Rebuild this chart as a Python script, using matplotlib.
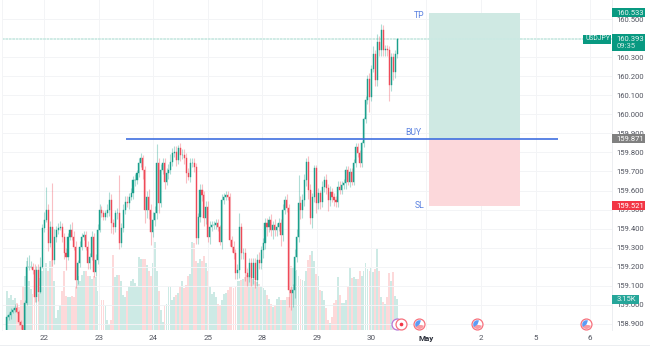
import matplotlib
matplotlib.use("Agg")
import matplotlib.pyplot as plt
from matplotlib.patches import Rectangle
from matplotlib.path import Path

plt.rcParams['font.family'] = ['Roboto', 'DejaVu Sans']

first_open = 158.87

closes = [
    158.938, 158.947, 158.965, 158.973, 158.982, 158.965, 158.912, 158.895, 158.869, 159.008,
    159.201, 159.201, 159.201, 159.183, 159.043, 159.183, 159.070, 159.201, 159.402, 159.445,
    159.498, 159.323, 159.410, 159.236, 159.358, 159.393, 159.402, 159.410, 159.358, 159.271,
    159.253, 159.358, 159.393, 159.358, 159.306, 159.131, 159.218, 159.306, 159.358, 159.367,
    159.306, 159.218, 159.253, 159.358, 159.174, 159.236, 159.393, 159.498, 159.480, 159.463,
    159.480, 159.498, 159.550, 159.428, 159.410, 159.480, 159.480, 159.323, 159.402, 159.498,
    159.542, 159.533, 159.568, 159.585, 159.655, 159.655, 159.690, 159.743, 159.769, 159.708,
    159.498, 159.568, 159.498, 159.384, 159.445, 159.480, 159.743, 159.533, 159.708, 159.743,
    159.647, 159.690, 159.708, 159.751, 159.795, 159.804, 159.760, 159.821, 159.786, 159.786,
    159.769, 159.690, 159.673, 159.743, 159.743, 159.725, 159.349, 159.463, 159.603, 159.577,
    159.454, 159.515, 159.358, 159.410, 159.419, 159.419, 159.428, 159.410, 159.332, 159.550,
    159.568, 159.577, 159.568, 159.341, 159.306, 159.271, 159.166, 159.183, 159.410, 159.271,
    159.271, 159.166, 159.148, 159.218, 159.140, 159.218, 159.131, 159.236, 159.218, 159.288,
    159.323, 159.428, 159.410, 159.445, 159.393, 159.419, 159.393, 159.410, 159.428, 159.367,
    159.498, 159.550, 159.507, 159.078, 159.061, 159.078, 159.253, 159.358, 159.533, 159.498,
    159.550, 159.655, 159.751, 159.603, 159.454, 159.568, 159.716, 159.533, 159.585, 159.542,
    159.620, 159.655, 159.612, 159.550, 159.594, 159.568, 159.550, 159.542, 159.620, 159.603,
    159.629, 159.638, 159.708, 159.647, 159.699, 159.647, 159.743, 159.830, 159.795, 159.743,
    159.848, 159.977, 160.074, 160.187, 160.091, 160.240, 160.318, 160.178, 160.379, 160.336,
    160.441, 160.336, 160.344, 160.336, 160.152, 160.301, 160.222, 160.318, 160.393,
]

wick_up = [
    .01, .01, .02, .01, .02, .02, .01, .01, .00, .02,
    .05, .06, .03, .02, .03, .02, .03, .05, .02, .04,
    .12, .03, .03, .23, .04, .02, .03, .03, .02, .02,
    .03, .02, .03, .04, .03, .03, .02, .03, .02, .02,
    .02, .03, .02, .03, .02, .03, .03, .03, .02, .02,
    .02, .03, .04, .03, .02, .02, .03, .20, .03, .03,
    .03, .03, .02, .03, .02, .03, .02, .03, .03, .02,
    .02, .03, .04, .03, .04, .04, .10, .03, .03, .03,
    .03, .03, .03, .04, .03, .03, .03, .02, .03, .03,
    .03, .03, .03, .03, .03, .03, .02, .02, .03, .03,
    .02, .03, .03, .03, .02, .02, .02, .02, .01, .03,
    .02, .02, .02, .02, .02, .03, .02, .03, .07, .02,
    .03, .03, .03, .03, .03, .03, .03, .03, .04, .02,
    .03, .03, .03, .02, .03, .02, .03, .02, .03, .02,
    .03, .02, .03, .02, .02, .03, .04, .04, .15, .04,
    .03, .03, .02, .03, .03, .02, .02, .02, .03, .02,
    .03, .02, .03, .02, .03, .02, .02, .02, .03, .03,
    .02, .02, .02, .02, .02, .02, .02, .02, .02, .02,
    .01, .01, .02, .02, .03, .02, .04, .02, .04, .03,
    .035, .03, .02, .02, .02, .02, .02, .02, .01,
]

wick_down = [
    .00, .02, .02, .01, .01, .01, .02, .02, .00, .01,
    .01, .02, .01, .02, .03, .03, .05, .01, .01, .02,
    .01, .04, .02, .03, .02, .03, .02, .01, .03, .03,
    .07, .02, .02, .02, .02, .04, .02, .02, .02, .02,
    .02, .03, .03, .02, .03, .02, .02, .01, .02, .02,
    .02, .02, .03, .05, .04, .03, .03, .03, .02, .02,
    .02, .02, .03, .02, .03, .03, .02, .02, .02, .05,
    .07, .04, .05, .07, .03, .03, .03, .05, .02, .02,
    .04, .02, .03, .02, .02, .02, .03, .02, .03, .02,
    .03, .05, .02, .03, .02, .03, .03, .03, .03, .03,
    .04, .03, .03, .04, .02, .02, .02, .02, .02, .04,
    .02, .02, .02, .03, .03, .03, .03, .03, .04, .03,
    .03, .04, .05, .03, .04, .03, .04, .03, .03, .03,
    .04, .03, .05, .03, .03, .05, .03, .03, .02, .06,
    .03, .02, .02, .09, .09, .07, .04, .03, .03, .05,
    .04, .03, .03, .05, .03, .05, .03, .05, .03, .04,
    .03, .03, .03, .06, .03, .03, .03, .03, .03, .02,
    .02, .02, .03, .02, .03, .02, .02, .02, .02, .02,
    .02, .02, .02, .02, .08, .02, .02, .03, .03, .03,
    .03, .03, .03, .03, .08, .03, .04, .03, .02,
]

# volume in K
volumes = [
    4.0, 3.2, 3.6, 3.0, 3.2, 2.7, 2.3, 3.0, 4.5, 5.5,
    7.0, 5.0, 4.2, 3.7, 3.4, 3.2, 3.7, 5.3, 6.0, 6.3,
    6.8, 6.0, 7.0, 7.1, 5.0, 1.2, 2.0, 2.4, 4.0, 6.0,
    3.5, 3.4, 3.4, 3.5, 3.3, 4.5, 5.5, 5.0, 5.6, 6.0,
    6.0, 5.5, 5.5, 5.2, 5.5, 5.4, 4.0, 3.5, 3.0, 3.0,
    2.4, 1.0, 0.5, 1.0, 7.6, 5.4, 5.6, 5.6, 5.0, 3.6,
    3.4, 4.0, 4.5, 5.0, 5.2, 4.8, 4.5, 7.4, 7.2, 7.2,
    7.2, 6.6, 6.0, 5.5, 6.8, 8.9, 6.0, 4.0, 2.0, 0.8,
    2.5, 2.6, 4.5, 4.5, 3.0, 3.4, 3.6, 3.8, 4.5, 5.0,
    4.3, 4.6, 5.5, 5.7, 8.9, 8.8, 7.0, 6.8, 7.2, 7.0,
    7.5, 6.8, 6.0, 4.4, 3.7, 3.9, 3.4, 2.6, 2.4, 3.0,
    3.7, 3.8, 4.1, 4.4, 4.4, 4.3, 4.4, 5.0, 5.0, 5.1,
    5.2, 5.4, 5.6, 5.6, 5.3, 5.2, 5.0, 4.9, 4.7, 4.5,
    4.3, 4.1, 3.6, 3.1, 2.6, 2.3, 2.4, 3.1, 3.3, 3.0,
    3.0, 3.0, 3.4, 3.4, 6.5, 6.3, 6.0, 6.1, 5.5, 5.2,
    5.1, 5.0, 6.0, 7.1, 7.6, 8.0, 7.0, 5.7, 5.5, 4.1,
    4.0, 3.0, 2.2, 1.0, 0.7, 1.3, 2.7, 3.0, 5.4, 3.6,
    2.7, 2.7, 3.0, 4.5, 6.3, 5.3, 5.4, 5.2, 5.2, 6.0,
    5.5, 6.0, 6.8, 6.2, 6.0, 6.3, 5.9, 6.2, 8.3, 6.0,
    3.4, 2.8, 2.6, 3.3, 5.8, 5.0, 5.9, 3.5, 3.15,
]

price_ticks = [158.9, 159.0, 159.1, 159.2, 159.3, 159.4, 159.5, 159.6,
               159.7, 159.8, 159.9, 160.0, 160.1, 160.2, 160.3, 160.5]

day_labels = ['22', '23', '24', '25', '28', '29', '30', 'May', '2', '5', '6']
day_pos = [18.8, 46.7, 74.1, 102, 129.7, 157.4, 185, 212.7, 240.6, 268.5, 295.9]

tp_price = 160.533
entry_price = 159.871
sl_price = 159.521
last_price = 160.393

UP = '#1a9f8c'
DOWN = '#ef4a58'

fig = plt.figure(figsize=(6.5, 3.52), dpi=100)
ax = fig.add_axes([2 / 650, 22 / 352, 610 / 650, 330 / 352])
vol = ax.twinx()
ax.set_zorder(2)
vol.set_zorder(1)
ax.patch.set_visible(False)

x = list(range(len(closes)))
opens = [first_open] + closes[:-1]
colors = [UP if c >= o else DOWN for o, c in zip(opens, closes)]
vol_colors = ['#cdeae5' if c >= o else '#fdd9da' for o, c in zip(opens, closes)]
tops = [max(o, c) + w for o, c, w in zip(opens, closes, wick_up)]
bottoms = [min(o, c) - w for o, c, w in zip(opens, closes, wick_down)]

# volume pane sits behind the candles
vol.bar(x, volumes, width=0.95, color=vol_colors, linewidth=0)
vol.set_ylim(0, 33.5)
vol.axis('off')

# long position tool
ax.fill_between([214.3, 260.4], entry_price, tp_price, color='#cfe9e3', linewidth=0, zorder=1)
ax.fill_between([214.3, 260.4], sl_price, entry_price, color='#fcd8db', linewidth=0, zorder=1)
ax.axhline(last_price, color='#cbe9e3', lw=1.3, ls=(0, (1.5, 0.4)), zorder=1.5)
ax.hlines(entry_price, 60.4, 279.7, color='#3f6fe0', lw=1.2, zorder=4)

ax.vlines(x, bottoms, tops, colors=colors, lw=0.8, alpha=0.35, zorder=2)
ax.bar(x, [c - o for o, c in zip(opens, closes)], bottom=opens, width=0.55,
       color=colors, edgecolor=colors, linewidth=0.3, zorder=3)

ax.text(211.7, 160.52, 'TP', color='#5b82e0', fontsize=6.2, ha='right', va='center')
ax.text(210.2, 159.905, 'BUY', color='#5b82e0', fontsize=6.2, ha='right', va='center')
ax.text(211.7, sl_price, 'SL', color='#5b82e0', fontsize=6.2, ha='right', va='center')

ax.set_xlim(-2.5, 307.1)
ax.set_ylim(158.868, 160.6)
ax.yaxis.tick_right()
ax.set_yticks(price_ticks)
ax.set_yticklabels(['%.3f' % p for p in price_ticks], color='#50535e', fontsize=5.5)
ax.set_xticks(day_pos)
ax.set_xticklabels(day_labels, color='#50535e', fontsize=5.8)
ax.get_xticklabels()[7].set_fontweight('bold')
ax.get_xticklabels()[7].set_color('#2a2e39')
ax.tick_params(length=0)
ax.tick_params(axis='y', pad=3.4)
ax.tick_params(axis='x', pad=3.6)
ax.grid(True, color='#f3f4f6', lw=0.7)
ax.set_axisbelow(True)
for s in ax.spines.values():
    s.set_visible(False)
ax.spines['right'].set_visible(True)
ax.spines['right'].set_color('#eceef1')
ax.spines['right'].set_linewidth(0.7)
ax.spines['left'].set_visible(True)
ax.spines['left'].set_color('#f3f4f6')
ax.spines['left'].set_linewidth(0.7)

# event icons along the bottom of the pane
flag_x = [209, 238.6, 293.9]
flag_y = [158.9] * 3
blue_part = Path.wedge(70, 215)
red_part = Path.wedge(195, 345)
ax.scatter(flag_x, flag_y, s=62, facecolor='white', edgecolor='#f7707c', linewidth=0.9, zorder=6)
ax.scatter(flag_x, flag_y, s=42, marker=red_part, color='#f89aa2', linewidth=0, zorder=6.1)
ax.scatter(flag_x, flag_y, s=18, marker='_', color='white', linewidth=0.7, zorder=6.2)
ax.scatter(flag_x, flag_y, s=40, marker=blue_part, color='#5b9cf6', linewidth=0, zorder=6.3)
ax.scatter([198], [158.9], s=62, facecolor='white', edgecolor='#b678d8', linewidth=0.9, zorder=6)
ax.scatter([200], [158.9], s=62, facecolor='white', edgecolor='#f7707c', linewidth=0.9, zorder=6.1)
ax.scatter([200], [158.9], s=7, color='#f23645', linewidth=0, zorder=6.2)

# price tags, drawn in pixel coordinates over the axis
ov = fig.add_axes([0, 0, 1, 1], zorder=5)
ov.set_xlim(0, 650)
ov.set_ylim(352, 0)
ov.axis('off')


def price_y(p):
    return 19 + (160.5 - p) * 190.6


def tag(x0, x1, y0, y1, color, text, tx, ty, tcolor='#e8f5f2', size=5.5):
    ov.add_patch(Rectangle((x0, y0), x1 - x0, y1 - y0, color=color, linewidth=0))
    ov.text(tx, ty, text, color=tcolor, fontsize=size, ha='left', va='center')


TAG_GREEN = '#089981'
yy = price_y(tp_price)
tag(612, 645, yy - 4.5, yy + 4.5, TAG_GREEN, '%.3f' % tp_price, 616.5, yy)
tag(612, 645, 34, 51, TAG_GREEN, '%.3f' % last_price, 616.5, 39)
ov.text(616.5, 46.5, '09:35', color='#cde9e3', fontsize=5.5, ha='left', va='center')
tag(582.5, 610.7, 34.5, 43.5, TAG_GREEN, 'USDJPY', 585.5, 39, size=4.9)
yy = price_y(entry_price)
tag(612, 645, yy - 4.5, yy + 4.5, '#808080', '%.3f' % entry_price, 616.5, yy, 'white')
yy = price_y(sl_price)
tag(612, 645, yy - 4.5, yy + 4.5, '#f23645', '%.3f' % sl_price, 616.5, yy, 'white')
tag(612, 638.5, 294.5, 303.5, '#26a69a', '3.15K', 616.5, 299)
ov.plot([0, 650], [345, 345], color='#eceef1', lw=0.7)

fig.savefig('out.png', dpi=100)
